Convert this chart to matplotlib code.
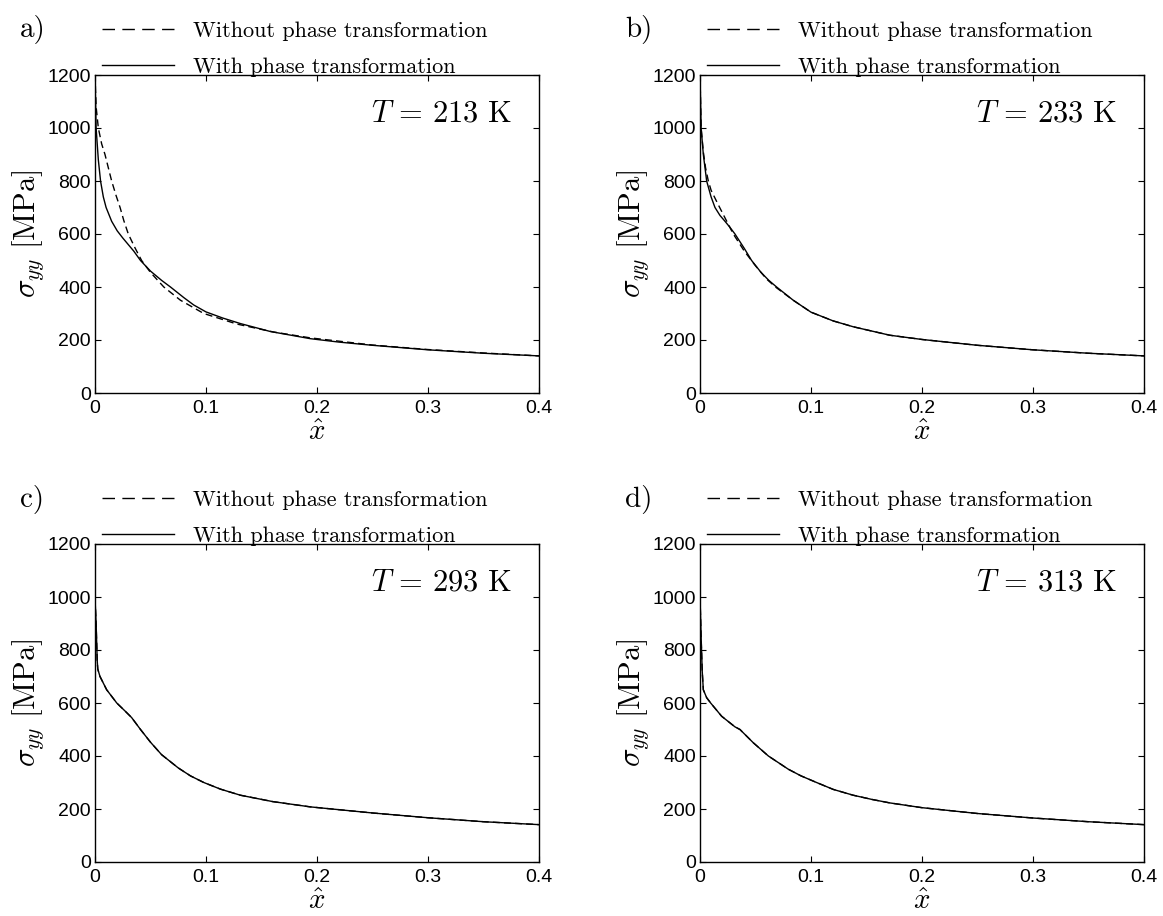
import matplotlib
matplotlib.use("Agg")
import matplotlib.pyplot as plt
from matplotlib.lines import Line2D

plt.rcParams.update({
    "mathtext.fontset": "cm",
    "font.family": "Liberation Sans",
    "font.size": 14,
    "axes.linewidth": 1.0,
    "axes.unicode_minus": False,
})

# ---- data (x-hat, sigma_yy in MPa) ----
a_with_x = [0, 0.001, 0.003, 0.005, 0.0075, 0.01, 0.015, 0.02, 0.025, 0.03, 0.035, 0.041,
            0.05, 0.06, 0.068, 0.08, 0.089, 0.1, 0.115, 0.131, 0.158, 0.194, 0.22, 0.25,
            0.3, 0.35, 0.4]
a_with_y = [1200, 1000, 880, 800, 740, 700, 648, 612, 585, 560, 535, 500,
            460, 425, 400, 360, 332, 306, 283, 262, 232, 205, 192, 180,
            163, 150, 140]
a_without_x = [0, 0.001, 0.003, 0.006, 0.009, 0.012, 0.015, 0.019, 0.0226, 0.026, 0.03,
               0.036, 0.042, 0.05, 0.062, 0.077, 0.098, 0.128, 0.161, 0.194, 0.25, 0.3,
               0.35, 0.4]
a_without_y = [1200, 1080, 1000, 940, 900, 850, 800, 745, 700, 650, 600,
               548, 500, 455, 400, 350, 300, 260, 230, 208, 181, 164,
               151, 140]

b_with_x = [0, 0.001, 0.003, 0.006, 0.01, 0.0135, 0.018, 0.0225, 0.027, 0.0315, 0.04,
            0.0465, 0.055, 0.062, 0.069, 0.084, 0.1, 0.12, 0.138, 0.171, 0.2, 0.25,
            0.3, 0.35, 0.4]
b_with_y = [1200, 1000, 900, 800, 740, 700, 670, 648, 625, 600, 545,
            500, 455, 425, 400, 350, 305, 272, 250, 218, 202, 180,
            163, 150, 140]
b_without_x = [0, 0.001, 0.003, 0.005, 0.0075, 0.01, 0.0165, 0.022, 0.03, 0.04, 0.05,
               0.06, 0.068, 0.084, 0.1, 0.12, 0.138, 0.171, 0.2, 0.25, 0.3, 0.35, 0.4]
b_without_y = [1200, 1000, 910, 850, 800, 765, 710, 665, 600, 535, 480,
               430, 400, 350, 305, 272, 250, 218, 202, 180, 163, 150, 140]

c_x = [0, 0.001, 0.002, 0.0025, 0.0045, 0.0105, 0.0196, 0.027, 0.033, 0.041, 0.05,
       0.06, 0.075, 0.086, 0.098, 0.113, 0.131, 0.16, 0.194, 0.25, 0.3, 0.35, 0.4]
c_y = [995, 900, 760, 728, 700, 650, 600, 570, 545, 500, 452,
       405, 355, 325, 300, 275, 252, 228, 208, 185, 167, 152, 141]

d_x = [0, 0.001, 0.002, 0.003, 0.006, 0.0096, 0.0195, 0.0315, 0.036, 0.048, 0.0616,
       0.0796, 0.091, 0.105, 0.12, 0.138, 0.155, 0.171, 0.2, 0.25, 0.3, 0.35, 0.4]
d_y = [1000, 850, 720, 650, 620, 600, 550, 510, 500, 450, 400,
       350, 325, 300, 274, 252, 236, 223, 205, 183, 166, 152, 141]

panels = [
    ("a)", "213", a_without_x, a_without_y, a_with_x, a_with_y),
    ("b)", "233", b_without_x, b_without_y, b_with_x, b_with_y),
    ("c)", "293", c_x, c_y, c_x, c_y),   # curves coincide at these temperatures
    ("d)", "313", d_x, d_y, d_x, d_y),
]

W, H = 1163, 916
fig = plt.figure(figsize=(W / 100, H / 100), dpi=100)
# axes boxes in pixels: left, top
boxes = [(95, 75), (700, 75), (95, 544), (700, 544)]
aw, ah = 444, 318

for (tag, temp, xo, yo, xw, yw), (l, t) in zip(panels, boxes):
    ax = fig.add_axes([l / W, 1 - (t + ah) / H, aw / W, ah / H])
    ax.plot(xo, yo, color="black", lw=1.0, dashes=(5, 3))
    ax.plot(xw, yw, color="black", lw=1.0)
    ax.set_xlim(0, 0.4)
    ax.set_ylim(0, 1200)
    ax.set_xticks([0, 0.1, 0.2, 0.3, 0.4])
    ax.set_xticklabels(["0", "0.1", "0.2", "0.3", "0.4"])
    ax.set_yticks(range(0, 1201, 200))
    ax.tick_params(direction="in", top=True, right=True, length=4, width=0.8, labelsize=14)
    ax.tick_params(axis="x", pad=5)
    ax.tick_params(axis="y", pad=3)
    ax.set_xlabel(r"$\hat{x}$", fontsize=21, labelpad=1)
    ax.set_ylabel(r"$\sigma_{yy}\ [\mathrm{MPa}]$", fontsize=22, labelpad=1)
    ax.text(0.937, 0.88, r"$T\,=\,%s\ \mathrm{K}$" % temp, transform=ax.transAxes,
            ha="right", va="center", fontsize=22)

    handles = [Line2D([], [], color="black", lw=1.0, dashes=(9, 5.3)),
               Line2D([], [], color="black", lw=1.0)]
    ax.legend(handles, ["Without phase transformation", "With phase transformation"],
              loc="lower left", bbox_to_anchor=(0.016, 0.995), frameon=False,
              prop={"family": "cmr10", "size": 16}, handlelength=3.25,
              handletextpad=0.85, labelspacing=0.73, borderpad=0, borderaxespad=0)
    fig.text((l - 75) / W, 1 - (t - 45) / H, tag, family="cmr10", fontsize=21,
             ha="left", va="center")

fig.savefig("out.png", dpi=100)
